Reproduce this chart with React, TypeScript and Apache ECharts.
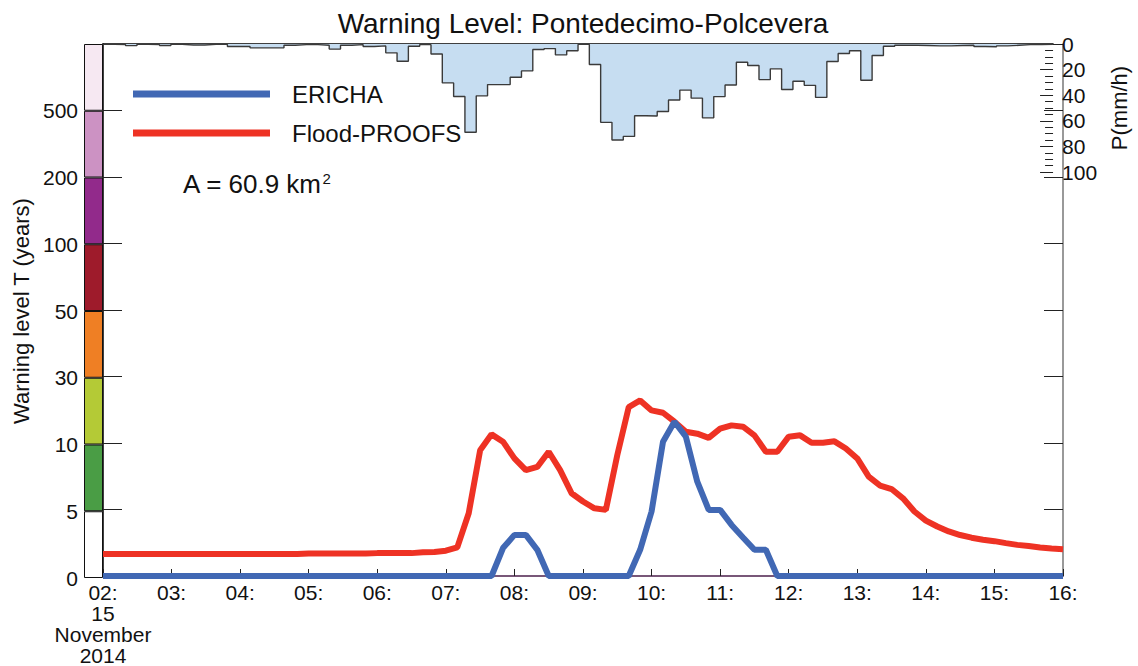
import React, { useEffect, useRef } from "react";
import * as echarts from "echarts";

// ---- data ----
// time axis: 02:00 .. 16:00, one value every 10 minutes
const startHour = 2;
const stepsPerHour = 6;
const hourLabels = ["02:", "03:", "04:", "05:", "06:", "07:", "08:", "09:", "10:", "11:", "12:", "13:", "14:", "15:", "16:"];
const dateLines = ["15", "November", "2014"];

// warning level axis (return period T, years)
const levelBreaks = [0, 5, 10, 30, 50, 100, 200, 500, 1000];
const levelLabels = ["0", "5", "10", "30", "50", "100", "200", "500", ""];
const levelColors = ["#ffffff", "#4a9d45", "#b4ca36", "#ef7f24", "#9e1b2b", "#922a8b", "#cc92c3", "#f6e8f2"];
const levelBandSpan = [1, 1, 1, 1, 1, 1, 1, 1];

// Flood-PROOFS warning level T (years), 10-min steps from 02:00
const floodProofs = [
  1.65, 1.65, 1.65, 1.65, 1.65, 1.65, 1.65, 1.65, 1.65, 1.65, 1.65, 1.65,
  1.65, 1.65, 1.65, 1.65, 1.65, 1.65, 1.69, 1.69, 1.69, 1.69, 1.69, 1.69,
  1.72, 1.72, 1.72, 1.72, 1.78, 1.81, 1.9, 2.15, 4.72, 9.46, 12.6, 10.4,
  8.84, 7.96, 8.2, 9.34, 7.96, 6.22, 5.6, 5.09, 4.97, 9.09, 20.8, 22.8,
  19.8, 19.1, 16.4, 13.4, 12.8, 11.56, 14.3, 15.3, 14.9, 12.3, 9.34, 9.34,
  11.9, 12.3, 10.1, 10.1, 10.5, 9.59, 8.84, 7.47, 6.8, 6.54, 5.84, 4.85,
  4.17, 3.72, 3.35, 3.08, 2.88, 2.73, 2.62, 2.47, 2.34, 2.25, 2.15, 2.07, 2.02,
];

// ERICHA warning level T (years)
const ericha = [
  0, 0, 0, 0, 0, 0, 0, 0, 0, 0, 0, 0,
  0, 0, 0, 0, 0, 0, 0, 0, 0, 0, 0, 0,
  0, 0, 0, 0, 0, 0, 0, 0, 0, 0, 0, 2.1,
  3.09, 3.09, 1.97, 0, 0, 0, 0, 0, 0, 0, 0, 1.97,
  4.85, 10.4, 16.4, 11.9, 7.09, 4.97, 4.97, 3.84, 2.9, 1.97, 1.97, 0,
  0, 0, 0, 0, 0, 0, 0, 0, 0, 0, 0, 0,
  0, 0, 0, 0, 0, 0, 0, 0, 0, 0, 0, 0, 0,
];

// precipitation P (mm/h), one value per 10-min interval starting 02:00
const precip = [
  0.3, 0.5, 1.3, 0.3, 0.5, 1.2, 0.3, 0.8, 0.8, 0.3, 0.3, 2,
  2, 3, 3, 3, 1, 0.5, 0.5, 1, 4, 1, 0.5, 2,
  1.5, 6.9, 13.5, 1.8, 0.5, 7.8, 30.4, 41, 69, 40.5, 31.7, 31.7,
  26, 21, 4.3, 3.6, 8.5, 5.3, 0.3, 16, 61.2, 75, 72.2, 56,
  56.3, 52.7, 43.7, 36, 42.3, 57.7, 41.1, 32, 14.3, 16.8, 27.8, 19.4,
  35.6, 29.1, 32.3, 41.7, 13.7, 7.4, 5.3, 28.3, 9, 1.7, 1, 1,
  1.2, 1.5, 1.5, 1.2, 1, 2, 2.2, 1.5, 1, 0.5, 0.5, 0.3,
];
const precipTicks = { min: 0, max: 100, interval: 20 };

// ---- helpers ----
const FONT = "'Liberation Sans', Arial, Helvetica, sans-serif";
const toLevel = (t: number) => {
  for (let k = 0; k < levelBreaks.length - 1; k++) {
    const a = levelBreaks[k];
    const b = levelBreaks[k + 1];
    if (t <= b) return k + (t - a) / (b - a);
  }
  return levelBreaks.length - 1;
};
const timeOf = (i: number) => startHour + i / stepsPerHour;

export default function App() {
  const ref = useRef<HTMLDivElement>(null);

  useEffect(() => {
    if (!ref.current) return;
    const chart = echarts.init(ref.current, null, { renderer: "svg" });

    const precipData = precip.map((p, k) => [timeOf(k), p]);
    precipData.push([timeOf(precip.length), precip[precip.length - 1]]);

    const colorBarSeries = levelColors.map((c, k) => ({
      type: "bar",
      name: "band" + k,
      stack: "bar",
      xAxisIndex: 2,
      yAxisIndex: 3,
      barWidth: "100%",
      data: [levelBandSpan[k]],
      itemStyle: { color: c, borderColor: "#111", borderWidth: 1 },
      silent: true,
      z: 1,
    }));

    const option: any = {
      animation: false,
      textStyle: { fontFamily: FONT },
      grid: [
        { left: 103, right: 75, top: 44, bottom: 88 },
        { left: 103, right: 75, top: 44, height: 128 },
        { left: 84, width: 19, top: 44, bottom: 88 },
      ],
      legend: {
        data: ["ERICHA", "Flood-PROOFS"],
        orient: "vertical",
        left: 133,
        top: 82,
        padding: 0,
        icon: "rect",
        itemWidth: 137,
        itemHeight: 7,
        itemGap: 15,
        textStyle: { fontSize: 24, lineHeight: 24, color: "#111", fontFamily: FONT, padding: [0, 0, 0, 17] },
      },
      xAxis: [
        {
          type: "value",
          gridIndex: 0,
          min: 2,
          max: 16,
          interval: 1,
          axisLine: { lineStyle: { color: "#4b1f4b", width: 1.5 } },
          axisTick: { inside: true, length: 7, lineStyle: { color: "#222" } },
          splitLine: { show: false },
          axisLabel: {
            fontSize: 21,
            lineHeight: 21,
            margin: 6,
            color: "#111",
            fontFamily: FONT,
            formatter: (v: number) => {
              const idx = Math.round(v - startHour);
              let s = hourLabels[idx] ?? "";
              if (idx === 0) s += "\n" + dateLines.join("\n");
              return s;
            },
          },
        },
        {
          type: "value",
          gridIndex: 1,
          min: 2,
          max: 16,
          position: "top",
          axisLine: { lineStyle: { color: "#000", width: 1.5 } },
          axisTick: { show: false },
          axisLabel: { show: false },
          splitLine: { show: false },
        },
        {
          type: "category",
          gridIndex: 2,
          data: ["T"],
          show: false,
        },
      ],
      yAxis: [
        {
          type: "value",
          gridIndex: 0,
          min: 0,
          max: 8,
          interval: 1,
          axisLine: { show: true, lineStyle: { color: "#000", width: 1.5 } },
          axisTick: { show: true, inside: true, length: 19, lineStyle: { color: "#222" } },
          axisLabel: { show: false },
          splitLine: { show: false },
        },
        {
          type: "value",
          gridIndex: 0,
          position: "right",
          min: 0,
          max: 8,
          interval: 1,
          axisLine: { show: true, lineStyle: { color: "#777", width: 1.5 } },
          axisTick: { show: true, inside: true, length: 19, lineStyle: { color: "#222" } },
          axisLabel: { show: false },
          splitLine: { show: false },
        },
        {
          type: "value",
          gridIndex: 1,
          position: "right",
          inverse: true,
          min: precipTicks.min,
          max: precipTicks.max,
          interval: precipTicks.interval,
          axisLine: { show: false },
          axisTick: { show: true, inside: true, length: 13, lineStyle: { color: "#222" } },
          minorTick: { show: true, splitNumber: 4, length: 8, lineStyle: { color: "#222" } },
          axisLabel: { fontSize: 21, margin: 9, color: "#111", fontFamily: FONT },
          splitLine: { show: false },
          name: "P(mm/h)",
          nameLocation: "middle",
          nameGap: 48,
          nameRotate: 90,
          nameTextStyle: { fontSize: 22, color: "#111", fontFamily: FONT },
        },
        {
          type: "value",
          gridIndex: 2,
          min: 0,
          max: 8,
          interval: 1,
          axisLine: { show: false },
          axisTick: { show: false },
          splitLine: { show: false },
          axisLabel: {
            fontSize: 21,
            margin: 6,
            color: "#111",
            fontFamily: FONT,
            formatter: (v: number) => levelLabels[Math.round(v)] ?? "",
          },
          name: "Warning level T (years)",
          nameLocation: "middle",
          nameGap: 52,
          nameTextStyle: { fontSize: 22, color: "#111", fontFamily: FONT },
        },
      ],
      series: [
        ...colorBarSeries,
        {
          type: "line",
          name: "P",
          xAxisIndex: 1,
          yAxisIndex: 2,
          step: "end",
          showSymbol: false,
          data: precipData,
          lineStyle: { color: "#3a3a3a", width: 1.4 },
          areaStyle: { color: "#c6ddf1", opacity: 1 },
          itemStyle: { color: "#3a3a3a" },
          silent: true,
          z: 2,
        },
        {
          type: "line",
          name: "Flood-PROOFS",
          xAxisIndex: 0,
          yAxisIndex: 0,
          showSymbol: false,
          data: floodProofs.map((t, i) => [timeOf(i), toLevel(t)]),
          lineStyle: { color: "#ee3224", width: 6 },
          itemStyle: { color: "#ee3224" },
          z: 3,
        },
        {
          type: "line",
          name: "ERICHA",
          xAxisIndex: 0,
          yAxisIndex: 0,
          showSymbol: false,
          data: ericha.map((t, i) => [timeOf(i), toLevel(t)]),
          lineStyle: { color: "#4168b4", width: 6 },
          itemStyle: { color: "#4168b4" },
          z: 4,
        },
      ],
      graphic: [
        {
          type: "text",
          x: 583,
          y: 23,
          style: {
            text: "Warning Level: Pontedecimo-Polcevera",
            fontSize: 28,
            fontFamily: FONT,
            fill: "#111",
            textAlign: "center",
            textVerticalAlign: "middle",
          },
        },
        {
          type: "text",
          x: 183,
          y: 184,
          style: {
            text: "A = 60.9 km{sup|2}",
            fontSize: 26,
            fontFamily: FONT,
            fill: "#111",
            textAlign: "left",
            textVerticalAlign: "middle",
            rich: {
              sup: { fontSize: 15, fontFamily: FONT, fill: "#111", verticalAlign: "top", lineHeight: 26 },
            },
          },
        },
      ],
    };

    chart.setOption(option);
    return () => chart.dispose();
  }, []);

  return (
    <div
      ref={ref}
      style={{ position: "absolute", left: 0, top: 0, width: 1138, height: 666, background: "#fff" }}
    />
  );
}
